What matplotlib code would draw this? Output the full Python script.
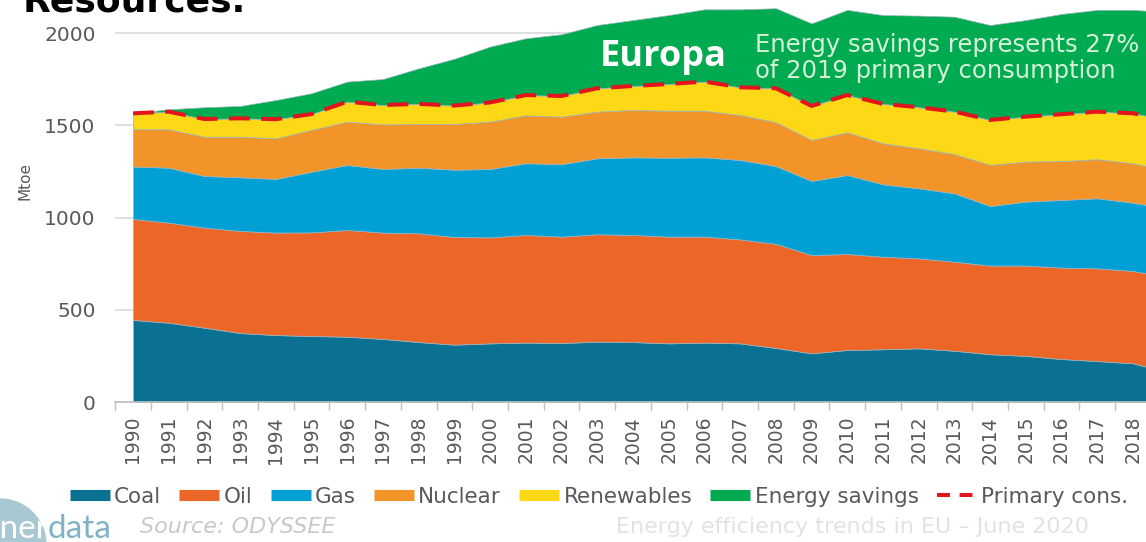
import numpy as np
import matplotlib
matplotlib.use("Agg")
import matplotlib.pyplot as plt
from matplotlib.lines import Line2D
from matplotlib.patches import Ellipse

# ---------------- data (Mtoe) ----------------
years = list(range(1990, 2020))
coal = [445, 430, 403, 374, 363, 358, 354, 342, 325, 311, 318, 322, 320, 327, 325,
        318, 322, 318, 293, 264, 282, 286, 291, 278, 259, 250, 233, 222, 210, 160]
oil = [548, 543, 543, 554, 556, 562, 579, 577, 590, 584, 575, 584, 577, 583, 581,
       579, 575, 564, 565, 533, 521, 502, 488, 483, 481, 490, 496, 503, 501, 515]
gas = [284, 298, 280, 291, 291, 329, 353, 345, 356, 365, 371, 389, 393, 412, 421,
       428, 430, 431, 422, 402, 428, 393, 380, 371, 323, 347, 367, 380, 370, 373]
nuclear = [203, 208, 213, 220, 220, 227, 235, 242, 237, 249, 257, 260, 258, 253, 257,
           255, 253, 244, 238, 222, 232, 222, 217, 213, 223, 217, 211, 212, 214, 207]
renewables = [86, 96, 96, 100, 104, 86, 108, 105, 109, 99, 104, 110, 112, 127, 130,
              145, 158, 150, 184, 185, 202, 214, 223, 230, 244, 244, 254, 258, 271, 275]
savings = [0, 13, 64, 67, 104, 113, 109, 141, 193, 254, 303, 308, 335, 343, 358,
           374, 392, 423, 434, 448, 462, 482, 497, 515, 515, 524, 544, 552, 561, 585]

series_labels = ["Coal", "Oil", "Gas", "Nuclear", "Renewables", "Energy savings"]
line_label = "Primary cons."
yticks = [0, 500, 1000, 1500, 2000]

colors = ["#0b7192", "#ec6628", "#00a0d5", "#f39428", "#fdd817", "#00aa50"]
red = "#e3141c"
grey_txt = "#595959"

# ---------------- figure ----------------
W, H = 1146, 542
fig = plt.figure(figsize=(W / 100, H / 100), dpi=100)
ax = fig.add_axes([115 / W, 1 - 402 / H, 1 - 115 / W, 402 / H])

ax.stackplot(years, coal, oil, gas, nuclear, renewables, savings,
             colors=colors, edgecolor="#9ab4c0", linewidth=0.5, zorder=2)
primary = np.sum([coal, oil, gas, nuclear, renewables], axis=0)
ax.plot(years, primary, color=red, lw=2.9, linestyle=(0, (5.2, 2.8)), zorder=5)

ax.set_yticks(yticks)
ax.set_yticklabels([str(v) for v in yticks])
ax.yaxis.grid(True, color="#d9d9d9", lw=1.2)
ax.set_axisbelow(True)

ax.set_xticks(years)
ax.set_xticklabels([str(y) for y in years], rotation=90)
ax.set_xticks(np.arange(1989.5, 2019.6, 1), minor=True)
ax.tick_params(axis="x", which="major", length=0, pad=10, labelsize=13.5, labelcolor=grey_txt)
ax.tick_params(axis="x", which="minor", length=6, width=1, color="#bfbfbf")
ax.tick_params(axis="y", length=0, pad=14, labelsize=14.5, labelcolor=grey_txt)

px_per_year = 1000 / 28
x0 = 1990 - 18 / px_per_year
ax.set_xlim(x0, x0 + 1031 / px_per_year)
ax.set_ylim(0, 2000 * 402 / (402 - 33.3))

for s in ["top", "right", "left"]:
    ax.spines[s].set_visible(False)
ax.spines["bottom"].set_color("#bfbfbf")
ax.spines["bottom"].set_linewidth(1.2)

fig.text(25 / W, 1 - 181 / H, "Mtoe", rotation=90, ha="center", va="center",
         fontsize=11, color=grey_txt)

# annotations inside the chart
fig.text(663 / W, 1 - 57 / H, "Europa", ha="center", va="center", fontsize=26,
         fontweight="bold", family=["Open Sans", "DejaVu Sans"], color="white", zorder=10)
fig.text(755 / W, 1 - 58 / H, "Energy savings represents 27%\nof 2019 primary consumption",
         ha="left", va="center", fontsize=17.5, color="#d6f1da", linespacing=1.1, zorder=10)

# clipped title at top
fig.text(23 / W, 1 - 11 / H, "Resources.", ha="left", va="baseline", fontsize=26,
         fontweight="bold", color="black")

# legend
handles = [Line2D([0], [0], color=c, lw=8, solid_capstyle="butt") for c in colors]
handles.append(Line2D([0], [0], color=red, lw=2.9, linestyle=(0, (3.2, 2.4))))
fig.legend(handles, series_labels + [line_label], loc="center",
           bbox_to_anchor=(599 / W, 1 - 497 / H), ncol=7, frameon=False,
           fontsize=15.5, handlelength=1.86, handletextpad=0.2, columnspacing=0.84,
           labelcolor=grey_txt)

# footer: logo, source, subtitle
logo = Ellipse((0, 1 - 545 / H), 92 / W, 92 / H, transform=fig.transFigure,
               color="#a8c8d3", zorder=0)
fig.patches.append(logo)
fig.text(48 / W, 1 - 538 / H, "ener", ha="right", va="baseline", fontsize=24,
         color="white", family=["Lato", "DejaVu Sans"], zorder=3)
fig.text(48 / W, 1 - 538 / H, "data", ha="left", va="baseline", fontsize=24,
         color="#7fb2c4", family=["Lato", "DejaVu Sans"], zorder=3)
fig.text(140 / W, 1 - 527 / H, "Source: ODYSSEE", ha="left", va="center", fontsize=16,
         style="italic", color="#c8c8c8")
fig.text(852 / W, 1 - 527 / H, "Energy efficiency trends in EU \u2013 June 2020", ha="center",
         va="center", fontsize=16, color="#e2e2e2")

fig.savefig("out.png", dpi=100)
